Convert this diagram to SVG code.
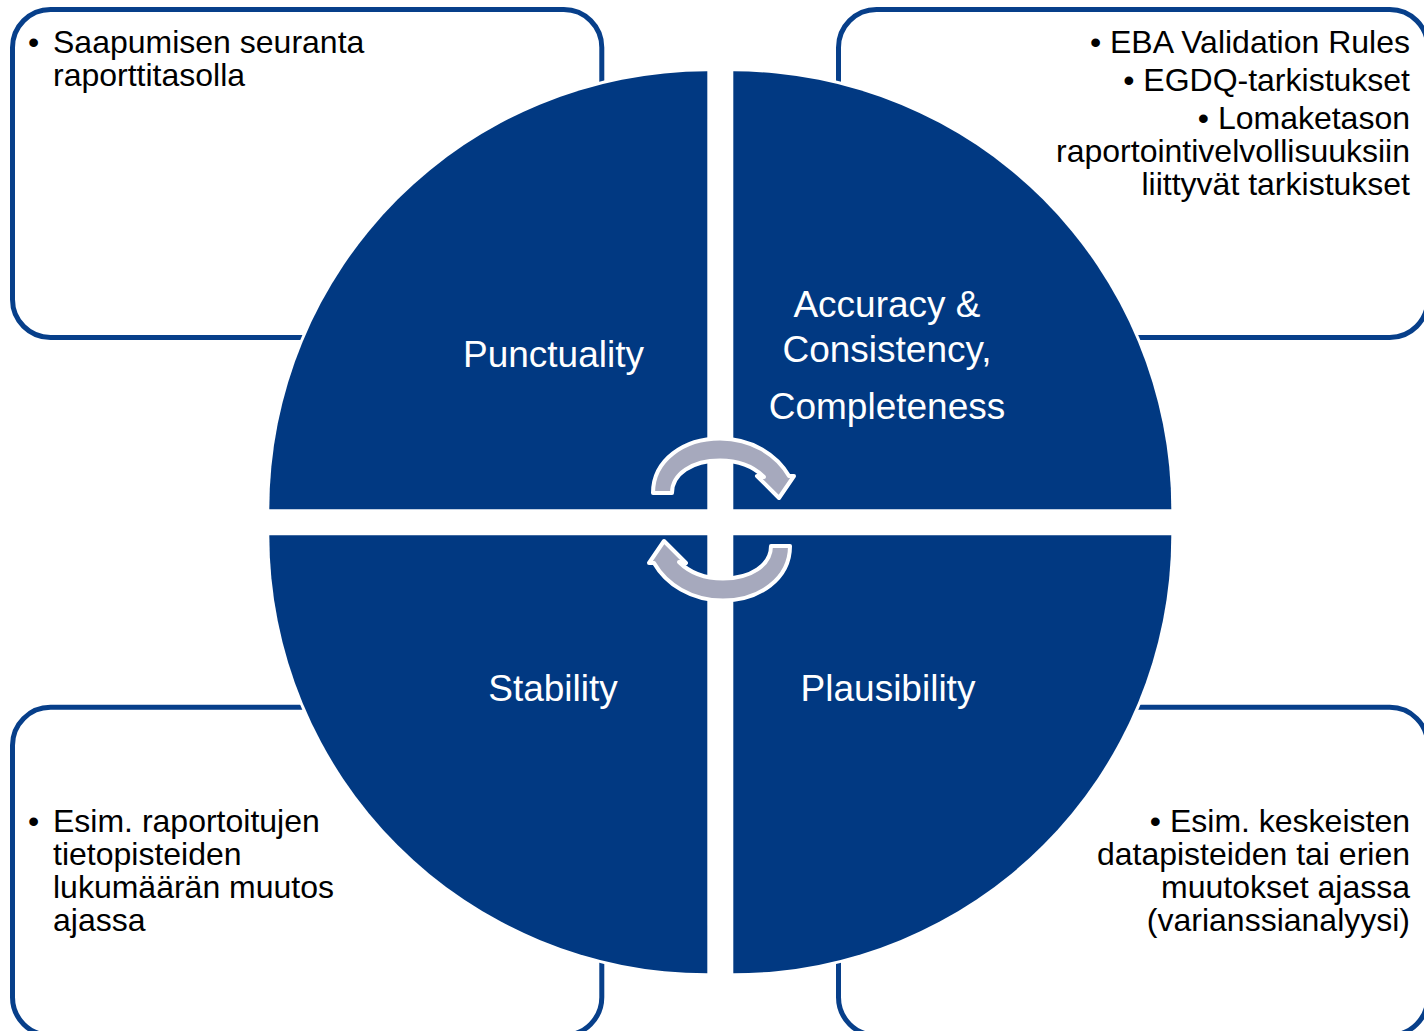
<svg xmlns="http://www.w3.org/2000/svg" width="1424" height="1031" viewBox="0 0 1424 1031">
<style>
.box{fill:#ffffff;stroke:#073f8a;stroke-width:5}
.quad{fill:#013982;stroke:#ffffff;stroke-width:6;paint-order:stroke fill}
.arrow{fill:#a6a9bd;stroke:#ffffff;stroke-width:4;stroke-linejoin:round}
.t{font-family:"Liberation Sans",Arial,sans-serif;font-size:32px;fill:#000000}
.end{text-anchor:end}
.lbl{font-family:"Liberation Sans",Arial,sans-serif;font-size:37px;fill:#ffffff;text-anchor:middle}
</style>
<rect width="1424" height="1031" fill="#ffffff"/>
<g id="box-tl">
<rect class="box" x="12.5" y="9.5" width="589.3" height="328" rx="38" ry="38"/>
<text class="t" x="28" y="53">•</text>
<text class="t" x="53" y="53">Saapumisen seuranta</text>
<text class="t" x="53" y="86">raporttitasolla</text>
</g>
<g id="box-tr">
<rect class="box" x="838.5" y="9.5" width="589.3" height="328" rx="38" ry="38"/>
<text class="t end" x="1410" y="53">• EBA Validation Rules</text>
<text class="t end" x="1410" y="91">• EGDQ-tarkistukset</text>
<text class="t end" x="1410" y="129">• Lomaketason</text>
<text class="t end" x="1410" y="162">raportointivelvollisuuksiin</text>
<text class="t end" x="1410" y="195">liittyvät tarkistukset</text>
</g>
<g id="box-bl">
<rect class="box" x="12.5" y="707.3" width="589.3" height="328" rx="38" ry="38"/>
<text class="t" x="28" y="831.5">•</text>
<text class="t" x="53" y="831.5">Esim. raportoitujen</text>
<text class="t" x="53" y="864.5">tietopisteiden</text>
<text class="t" x="53" y="897.5">lukumäärän muutos</text>
<text class="t" x="53" y="930.5">ajassa</text>
</g>
<g id="box-br">
<rect class="box" x="838.5" y="707.3" width="589.3" height="328" rx="38" ry="38"/>
<text class="t end" x="1410" y="831.5">• Esim. keskeisten</text>
<text class="t end" x="1410" y="864.5">datapisteiden tai erien</text>
<text class="t end" x="1410" y="897.5">muutokset ajassa</text>
<text class="t end" x="1410" y="930.5">(varianssianalyysi)</text>
</g>
<g id="punctuality">
<path class="quad" d="M707.3,509.3 L269.3,509.3 A438,438 0 0 1 707.3,71.3 Z"/>
<text class="lbl" x="553.5" y="367">Punctuality</text>
</g>
<g id="accuracy">
<path class="quad" d="M733.3,509.3 L733.3,71.3 A438,438 0 0 1 1171.3,509.3 Z"/>
<text class="lbl" x="887" y="317">Accuracy &amp;</text>
<text class="lbl" x="887" y="362">Consistency,</text>
<text class="lbl" x="887" y="419">Completeness</text>
</g>
<g id="plausibility">
<path class="quad" d="M733.3,535.3 L1171.3,535.3 A438,438 0 0 1 733.3,973.3 Z"/>
<text class="lbl" x="888" y="701">Plausibility</text>
</g>
<g id="stability">
<path class="quad" d="M707.3,535.3 L707.3,973.3 A438,438 0 0 1 269.3,535.3 Z"/>
<text class="lbl" x="553" y="701">Stability</text>
</g>
<g id="connectors">
<path id="arrow-top" class="arrow" d="M653,493 C653,460 684,438.5 720,438.5 C752,438.5 777,455 789,476 L794,476 L779,498 L757,476 L764,477 C753,466 739,460.5 720,460.5 C692,460.5 672,474 672,493 Z"/>
<path id="arrow-bottom" class="arrow" transform="rotate(180 721.5 519.5)" d="M653,493 C653,460 684,438.5 720,438.5 C752,438.5 777,455 789,476 L794,476 L779,498 L757,476 L764,477 C753,466 739,460.5 720,460.5 C692,460.5 672,474 672,493 Z"/>
</g>
</svg>
